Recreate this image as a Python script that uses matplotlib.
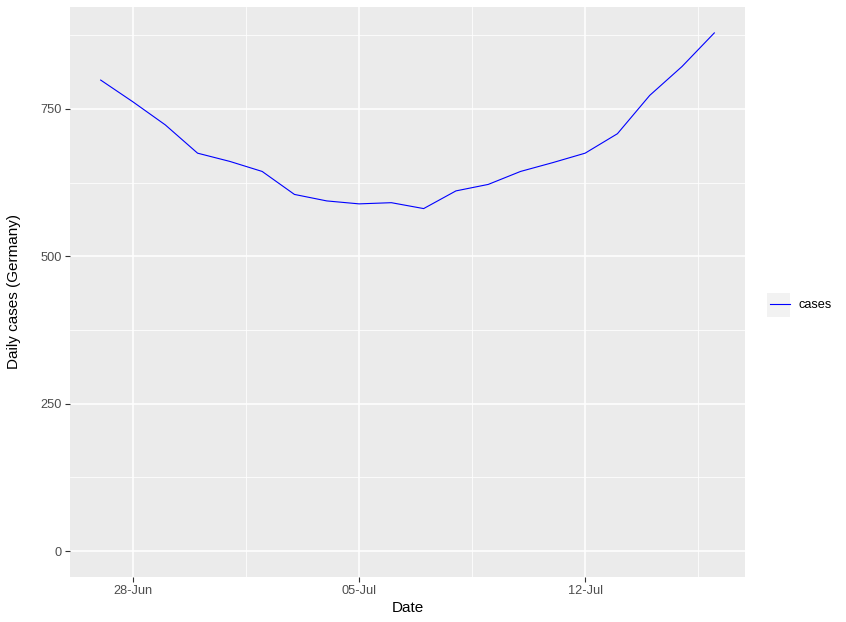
import matplotlib
matplotlib.use("Agg")
import matplotlib.pyplot as plt
import matplotlib.dates as mdates
import numpy as np
import pandas as pd
from matplotlib.lines import Line2D

dates = pd.date_range("2020-06-27", "2020-07-16", freq="D")
cases = [799, 762, 723, 675, 661, 644, 605, 594, 589, 591, 581, 611, 622, 644,
         659, 675, 708, 773, 822, 879]
y_ticks = [0, 250, 500, 750]
x_tick_dates = pd.to_datetime(["2020-06-28", "2020-07-05", "2020-07-12"])
x_tick_labels = ["28-Jun", "05-Jul", "12-Jul"]

plt.rcParams['font.family'] = ['Liberation Sans', 'DejaVu Sans']

W, H = 846, 622
fig = plt.figure(figsize=(W / 100, H / 100), dpi=100)
fig.patch.set_facecolor("white")
left, right, top, bottom = 70, 745, 7, 577
ax = fig.add_axes([left / W, 1 - bottom / H, (right - left) / W, (bottom - top) / H])
ax.set_facecolor("#EBEBEB")

xn = mdates.date2num(dates)
span = xn[-1] - xn[0]
ax.set_xlim(xn[0] - 0.05 * span, xn[-1] + 0.05 * span)
ymax = max(cases)
ax.set_ylim(-0.05 * ymax, ymax * 1.05)

# gridlines
for v in [125, 375, 625, 875]:
    ax.axhline(v, color="white", lw=0.55, zorder=0.5)
for v in y_ticks:
    ax.axhline(v, color="white", lw=1.1, zorder=0.6)
xt = mdates.date2num(x_tick_dates)
for i in range(len(xt) - 1):
    ax.axvline((xt[i] + xt[i + 1]) / 2, color="white", lw=0.55, zorder=0.5)
ax.axvline(xt[-1] + (xt[1] - xt[0]) / 2, color="white", lw=0.55, zorder=0.5)
for v in xt:
    ax.axvline(v, color="white", lw=1.1, zorder=0.6)

ax.plot(xn, cases, color="blue", lw=0.8, zorder=2)

ax.set_xticks(xt)
ax.set_xticklabels(x_tick_labels)
ax.set_yticks(y_ticks)
ax.set_yticklabels([str(v) for v in y_ticks])
ax.tick_params(axis="both", colors="#333333", labelcolor="#4D4D4D", length=3.5,
               width=0.8, labelsize=9.2, pad=2.5)
for s in ax.spines.values():
    s.set_visible(False)

ax.set_xlabel("Date", fontsize=11, color="black", labelpad=3)
ax.set_ylabel("Daily cases (Germany)", fontsize=11, color="black", labelpad=14)

# legend
handle = Line2D([0], [0], color="blue", lw=0.8)
leg = fig.legend([handle], ["cases"], loc="center left",
                 bbox_to_anchor=(758 / W, 1 - 305 / H), frameon=False,
                 fontsize=9.2, handlelength=1.6, handletextpad=0.7)
# legend key background
fig.patches.append(matplotlib.patches.Rectangle((767 / W, 1 - 317 / H), 23 / W, 24 / H,
                   transform=fig.transFigure, facecolor="#F2F2F2", edgecolor="none", zorder=0))

fig.savefig("out.png", dpi=100)
